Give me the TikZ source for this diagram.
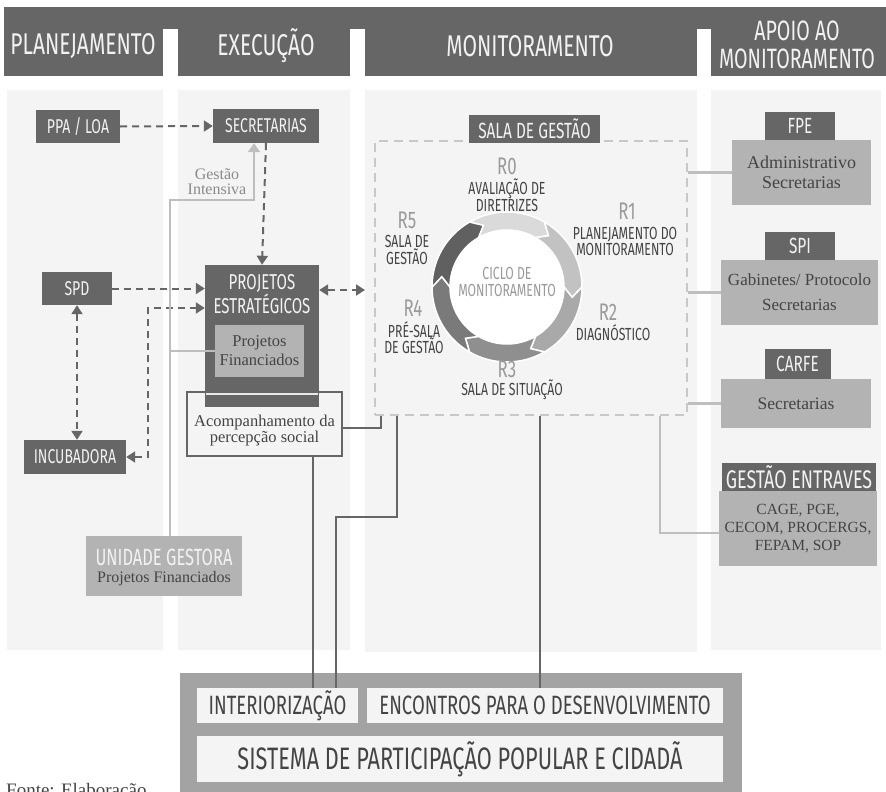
\documentclass[tikz,border=0pt]{standalone}
\usepackage{fontspec}
\setmainfont{Liberation Serif}
\newfontfamily\cond[FakeStretch=0.7]{Fira Sans}
\usetikzlibrary{arrows.meta}
\definecolor{dk}{HTML}{666666}
\definecolor{panel}{HTML}{F4F4F4}
\definecolor{mid}{HTML}{B3B3B3}
\definecolor{lline}{HTML}{BEBEBE}
\definecolor{dashc}{HTML}{C8C8C8}
\definecolor{txt}{HTML}{444444}
\definecolor{ltxt}{HTML}{9A9A9A}
\definecolor{gtxt}{HTML}{8A8A8A}
\definecolor{botgray}{HTML}{A3A3A3}
\definecolor{wtxt}{HTML}{F2F2F2}
\begin{document}
\begin{tikzpicture}[x=1pt,y=-1pt,
  hdr/.style={text=wtxt,font=\cond\fontsize{30}{24}\selectfont,align=center,inner sep=0pt},
  darkbox/.style={fill=dk,text=wtxt,font=\cond\fontsize{20}{20}\selectfont,inner sep=0pt,align=center},
  midbox/.style={fill=mid,text=txt,font=\fontsize{16}{20}\selectfont,inner sep=0pt,align=center},
  botbox/.style={fill=panel,text=txt,inner sep=0pt,align=center},
  darr/.style={draw=dk,line width=2pt,dash pattern=on 7pt off 5pt,-{Triangle[width=11pt,length=9pt]}},
  ddarr/.style={draw=dk,line width=2pt,dash pattern=on 7pt off 5pt,{Triangle[width=11pt,length=9pt]}-{Triangle[width=11pt,length=9pt]}},
  lln/.style={draw=lline,line width=2.5pt},
  dln/.style={draw=dk,line width=2.5pt},
  ring/.style={font=\cond\fontsize{24}{24}\selectfont,text=ltxt,inner sep=0pt},
  rlab/.style={font=\cond\fontsize{17.5}{14.5}\selectfont,text=txt,inner sep=0pt,align=center}
]
\useasboundingbox (0,0) rectangle (886,792);
\fill[white] (0,0) rectangle (886,792);
% header
\fill[dk] (4,7) rectangle (886,76);
\fill[white] (163,29) rectangle (178,77);
\fill[white] (350,29) rectangle (365,77);
\fill[white] (697,29) rectangle (711,77);
\node[hdr] (h1) at (83,46) {PLANEJAMENTO};
\node[hdr] (h2) at (266,46) {EXECUÇÃO};
\node[hdr] (h3) at (530,46) {MONITORAMENTO};
\node[hdr,font=\cond\fontsize{28}{24}\selectfont] (h4a) at (797,31) {APOIO AO};
\node[hdr,font=\cond\fontsize{28}{24}\selectfont] (h4b) at (797,59) {MONITORAMENTO};
% panels
\fill[panel] (7,90) rectangle (163,650);
\fill[panel] (178,90) rectangle (350,650);
\fill[panel] (365,90) rectangle (697,652);
\fill[panel] (711,90) rectangle (881,650);
% source text
\node[anchor=north west,inner sep=0pt,font=\fontsize{19}{20}\selectfont,text=txt] (src) at (6,783) {Fonte: Elaboração};
% bottom block
\fill[botgray] (180,673) rectangle (742,800);
\node[botbox,minimum width=161pt,minimum height=35pt,font=\cond\fontsize{26.5}{20}\selectfont] (int) at (277.5,705.5) {INTERIORIZAÇÃO};
\node[botbox,minimum width=356pt,minimum height=35pt,font=\cond\fontsize{26.5}{20}\selectfont] (enc) at (545,705.5) {ENCONTROS PARA O DESENVOLVIMENTO};
\node[botbox,minimum width=526pt,minimum height=46pt,font=\cond\fontsize{31}{24}\selectfont] (spp) at (460,759) {SISTEMA DE PARTICIPAÇÃO POPULAR E CIDADÃ};
% planejamento / execucao boxes
\node[darkbox,minimum width=84pt,minimum height=33pt] (ppa) at (78,126.5) {PPA / LOA};
\node[darkbox,minimum width=106pt,minimum height=34pt] (sec) at (266,126) {SECRETARIAS};
\node[darkbox,minimum width=70pt,minimum height=33pt] (spd) at (77,288.5) {SPD};
\node[darkbox,minimum width=102pt,minimum height=34pt] (inc) at (75,457) {INCUBADORA};
\node[draw=dk,line width=2.5pt,fill=panel,minimum width=155pt,minimum height=64pt,inner sep=0pt] (acp) at (264.5,424) {};
\node[darkbox,minimum width=114pt,minimum height=142pt] (proj) at (262,336) {};
\node[inner sep=0pt,text=wtxt,font=\cond\fontsize{21.5}{19}\selectfont,align=center] (projt) at (262,294) {PROJETOS\\ESTRATÉGICOS};
\node[midbox,minimum width=89pt,minimum height=52pt,font=\fontsize{16.5}{19}\selectfont] (pf) at (259.5,351) {Projetos\\Financiados};
\draw[white!85!dk,line width=1.5pt] (206,394) -- (318,394);
\node[inner sep=0pt,text=txt,font=\fontsize{16.5}{16}\selectfont,align=center] (acpt) at (264.5,431) {Acompanhamento da\\percepção social};
\node[midbox,minimum width=156pt,minimum height=60pt] (ug) at (164,566) {};
\node[inner sep=0pt,text=wtxt,font=\cond\fontsize{23.5}{20}\selectfont] (ugt) at (164,557) {UNIDADE GESTORA};
\node[inner sep=0pt,text=txt,font=\fontsize{16}{16}\selectfont] (ugp) at (164,579) {Projetos Financiados};
\node[inner sep=0pt,text=gtxt,font=\fontsize{16}{15}\selectfont,align=center] (gi) at (217,182) {Gestão\\Intensiva};
% monitoramento
\node[draw=dashc,line width=2pt,dash pattern=on 9pt off 6pt,minimum width=312pt,minimum height=274pt,inner sep=0pt] (sg) at (531,278) {};
\node[darkbox,minimum width=131pt,minimum height=28pt,font=\cond\fontsize{22}{20}\selectfont] (sgt) at (534.5,129) {SALA DE GESTÃO};
% ring
\begin{scope}[shift={(507,287)},yscale=-1]
\foreach \a/\c in {120/DADADA,60/C2C2C2,0/A9A9A9,-60/8F8F8F,-120/7A7A7A,180/606060}{
  \pgfmathsetmacro{\b}{\a-60}
  \definecolor{segc}{HTML}{\c}
  \filldraw[fill=segc,draw=white,line width=1.5pt,line join=miter]
    (\a:75) arc[start angle=\a,end angle=\b,radius=75] -- (\b-9:66) -- (\b:57)
    arc[start angle=\b,end angle=\a,radius=57] -- (\a-9:66) -- cycle;
}
\fill[white] (0,0) circle[radius=57];
\end{scope}
\node[ring] (r0) at (507,166) {R0};
\node[rlab] (l0) at (507,195) {AVALIAÇÃO DE\\DIRETRIZES};
\node[ring] (r1) at (627,211) {R1};
\node[rlab,font=\cond\fontsize{17.5}{16}\selectfont] (l1) at (625,241) {PLANEJAMENTO DO\\MONITORAMENTO};
\node[ring] (r2) at (608,312) {R2};
\node[rlab] (l2) at (613,333) {DIAGNÓSTICO};
\node[ring] (r3) at (507,369) {R3};
\node[rlab] (l3) at (512,390) {SALA DE SITUAÇÃO};
\node[ring] (r4) at (413,308) {R4};
\node[rlab,font=\cond\fontsize{17.5}{16}\selectfont] (l4) at (414,338) {PRÉ-SALA\\DE GESTÃO};
\node[ring] (r5) at (407,220) {R5};
\node[rlab,font=\cond\fontsize{17.5}{13.5}\selectfont] (l5) at (407,250) {SALA DE\\GESTÃO};
\node[inner sep=0pt,text=ltxt,font=\cond\fontsize{17.5}{17}\selectfont,align=center] (cm) at (507,282) {CICLO DE\\MONITORAMENTO};
% apoio
\node[darkbox,minimum width=70pt,minimum height=28pt,font=\cond\fontsize{22}{20}\selectfont] (fpe) at (800,126) {FPE};
\node[midbox,minimum width=139pt,minimum height=65pt,font=\fontsize{18}{20}\selectfont] (adm) at (801.5,172.5) {Administrativo\\Secretarias};
\node[darkbox,minimum width=70pt,minimum height=28pt,font=\cond\fontsize{22}{20}\selectfont] (spi) at (800,246) {SPI};
\node[midbox,minimum width=157pt,minimum height=65pt,font=\fontsize{17}{25}\selectfont] (gab) at (799.5,292.5) {Gabinetes/ Protocolo\\Secretarias};
\node[darkbox,minimum width=66pt,minimum height=30pt,font=\cond\fontsize{22}{20}\selectfont] (carfe) at (797.5,364) {CARFE};
\node[midbox,minimum width=150pt,minimum height=49pt,font=\fontsize{17.5}{20}\selectfont] (sec2) at (796,403.5) {Secretarias};
\node[darkbox,minimum width=154pt,minimum height=28pt,font=\cond\fontsize{25.5}{20}\selectfont] (ge) at (799,477) {GESTÃO ENTRAVES};
\node[midbox,minimum width=158pt,minimum height=75pt,font=\fontsize{15.5}{18}\selectfont] (cage) at (798,528.5) {CAGE, PGE,\\CECOM, PROCERGS,\\FEPAM, SOP};
% coordinates
\coordinate (g1) at (170,200);
\coordinate (g2) at (254,200);
\coordinate (pr) at (365,290);
\coordinate (a1) at (381,428);
\coordinate (b1) at (313,500);
\coordinate (c1) at (397,517);
\coordinate (c2) at (336,517);
\coordinate (d1) at (540,500);
\coordinate (e1) at (660,533);
\coordinate (ix) at (148,308);
% dashed arrows
\draw[darr] (ppa.east) -- (sec.west);
\draw[darr] (sec.south) -- (proj.north);
\draw[darr] (spd.east) -- (spd.east -| proj.west);
\draw[ddarr] (spd.south) -- (spd.south |- inc.north);
\draw[ddarr] (inc.east) -- (inc.east -| ix) -- (ix) -- (ix -| proj.west);
\draw[ddarr] (proj.east |- pr) -- (pr);
% light lines
\draw[lln,-{Triangle[width=12pt,length=9pt]}] (ug.north -| g1) -- (g1) -- (g2) -- (g2 |- sec.south);
\draw[lln] (pf.west -| g1) -- (pf.west);
\draw[lln] (sg.east |- adm.west) -- (adm.west);
\draw[lln] (sg.east |- gab.west) -- (gab.west);
\draw[lln] (sg.east |- sec2.west) -- (sec2.west);
\draw[lln] (e1 |- sg.south) -- (e1) -- (e1 -| cage.west);
% dark lines
\draw[dln] (acp.east |- a1) -- (a1) -- (a1 |- sg.south);
\draw[dln] (acp.south -| b1) -- (b1 |- int.north);
\draw[dln] (c1 |- sg.south) -- (c1) -- (c2) -- (c2 |- int.north);
\draw[dln] (d1 |- sg.south) -- (d1 |- enc.north);
\end{tikzpicture}
\end{document}
